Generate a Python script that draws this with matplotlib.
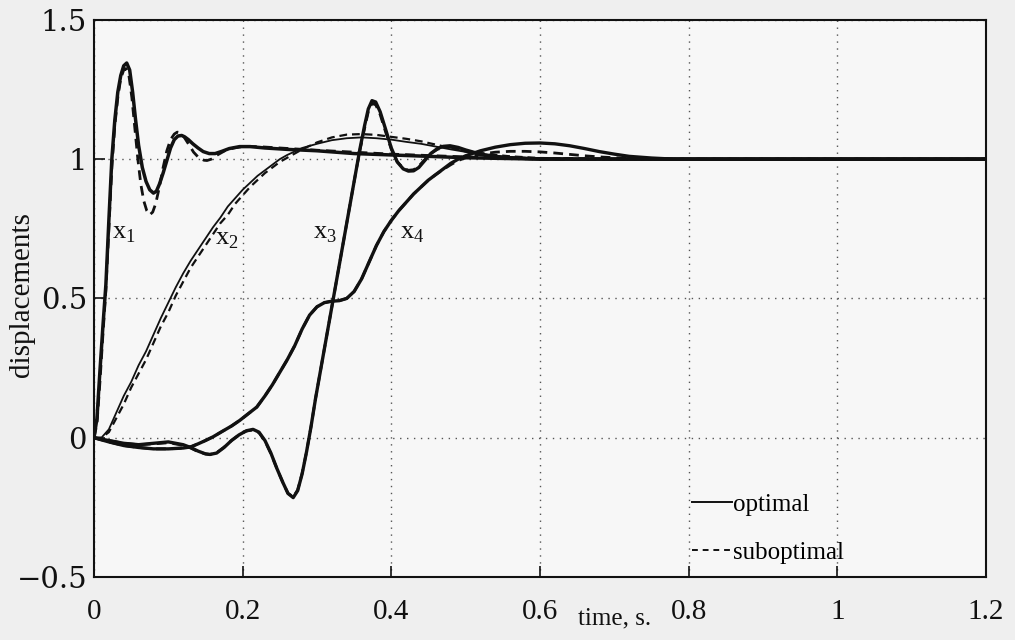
import matplotlib
matplotlib.use("Agg")
import matplotlib.pyplot as plt
from matplotlib.lines import Line2D

plt.rcParams['font.family'] = ['Liberation Serif', 'DejaVu Serif']
plt.rcParams['mathtext.fontset'] = 'custom'
plt.rcParams['mathtext.rm'] = 'Liberation Serif'

# x1 response, optimal / suboptimal controller
t_x1 = [0, 0.004, 0.008, 0.012, 0.016, 0.020, 0.024, 0.028, 0.032, 0.036, 0.040, 0.044,
        0.048, 0.052, 0.056, 0.060, 0.065, 0.070, 0.075, 0.080, 0.084, 0.088, 0.093, 0.098,
        0.103, 0.108, 0.113, 0.118, 0.122, 0.127, 0.133, 0.140, 0.147, 0.155, 0.163, 0.172,
        0.182, 0.196, 0.21, 0.23, 0.26, 0.30, 0.35, 0.40, 0.45, 0.50, 0.60, 0.70, 0.80, 1.0, 1.2]
x1_opt = [0, 0.07, 0.24, 0.40, 0.55, 0.78, 1.0, 1.14, 1.24, 1.30, 1.335, 1.345,
          1.32, 1.24, 1.14, 1.05, 0.97, 0.92, 0.89, 0.878, 0.885, 0.91, 0.95, 0.995,
          1.04, 1.07, 1.083, 1.085, 1.08, 1.07, 1.055, 1.04, 1.027, 1.02, 1.02, 1.028,
          1.038, 1.045, 1.045, 1.04, 1.035, 1.03, 1.02, 1.015, 1.01, 1.005, 1.0, 1.0, 1.0, 1.0, 1.0]
t_x1s = [0, 0.004, 0.008, 0.012, 0.016, 0.020, 0.024, 0.028, 0.032, 0.036, 0.040, 0.043,
         0.047, 0.051, 0.055, 0.059, 0.063, 0.067, 0.071, 0.075, 0.079, 0.083, 0.088, 0.093,
         0.098, 0.103, 0.108, 0.112, 0.116, 0.121, 0.127, 0.134, 0.141, 0.148, 0.152, 0.158,
         0.166, 0.176, 0.188, 0.20, 0.22, 0.25, 0.30, 0.35, 0.40, 0.50, 0.60, 0.80, 1.2]
x1_sub = [0, 0.05, 0.20, 0.37, 0.53, 0.75, 0.97, 1.12, 1.22, 1.29, 1.32, 1.325,
          1.30, 1.22, 1.11, 1.0, 0.91, 0.85, 0.815, 0.80, 0.81, 0.84, 0.90, 0.97,
          1.03, 1.07, 1.09, 1.097, 1.095, 1.08, 1.055, 1.025, 1.005, 0.996, 0.995, 1.0,
          1.015, 1.03, 1.04, 1.045, 1.045, 1.04, 1.032, 1.025, 1.018, 1.008, 1.002, 1.0, 1.0]

# x2 response
t_x2 = [0, 0.01, 0.02, 0.03, 0.04, 0.05, 0.06, 0.07, 0.08, 0.09, 0.10, 0.11, 0.12, 0.13,
        0.14, 0.15, 0.16, 0.17, 0.18, 0.19, 0.20, 0.21, 0.22, 0.23, 0.24, 0.25, 0.26, 0.28,
        0.30, 0.32, 0.34, 0.36, 0.38, 0.40, 0.42, 0.44, 0.46, 0.48, 0.50, 0.53, 0.56, 0.60,
        0.70, 0.80, 1.2]
x2_opt = [0, 0.0, 0.03, 0.09, 0.15, 0.20, 0.26, 0.31, 0.37, 0.43, 0.485, 0.54, 0.59, 0.635,
          0.675, 0.715, 0.755, 0.79, 0.83, 0.86, 0.89, 0.915, 0.94, 0.96, 0.98, 1.0, 1.015, 1.04,
          1.055, 1.068, 1.075, 1.078, 1.075, 1.07, 1.062, 1.055, 1.045, 1.035, 1.026, 1.015, 1.008, 1.003,
          1.0, 1.0, 1.0]
x2_sub = [0, 0.0, 0.02, 0.07, 0.12, 0.18, 0.23, 0.28, 0.34, 0.40, 0.45, 0.51, 0.56, 0.61,
          0.65, 0.69, 0.73, 0.77, 0.80, 0.84, 0.87, 0.90, 0.925, 0.95, 0.97, 0.99, 1.005, 1.035,
          1.06, 1.078, 1.088, 1.09, 1.087, 1.08, 1.073, 1.064, 1.052, 1.04, 1.03, 1.018, 1.01, 1.004,
          1.0, 1.0, 1.0]

# x3 response
t_x3 = [0, 0.02, 0.04, 0.06, 0.08, 0.10, 0.12, 0.13, 0.14, 0.15, 0.156, 0.165, 0.175, 0.185,
        0.195, 0.205, 0.214, 0.222, 0.23, 0.238, 0.246, 0.254, 0.261, 0.268, 0.274, 0.28, 0.286,
        0.292, 0.298, 0.304, 0.31, 0.316, 0.322, 0.328, 0.334, 0.34, 0.346, 0.352, 0.358, 0.364,
        0.369, 0.374, 0.379, 0.385, 0.392, 0.40, 0.408, 0.416, 0.423, 0.43, 0.437, 0.445, 0.453,
        0.462, 0.47, 0.479, 0.49, 0.50, 0.52, 0.55, 0.60, 0.70, 0.80, 1.2]
x3_opt = [0, -0.01, -0.02, -0.025, -0.02, -0.015, -0.025, -0.035, -0.048, -0.058, -0.06, -0.055, -0.035, -0.01,
          0.01, 0.025, 0.03, 0.02, -0.01, -0.055, -0.11, -0.16, -0.20, -0.215, -0.19, -0.13, -0.05,
          0.04, 0.14, 0.23, 0.32, 0.41, 0.50, 0.59, 0.68, 0.77, 0.86, 0.95, 1.04, 1.12,
          1.18, 1.21, 1.205, 1.17, 1.11, 1.04, 0.99, 0.965, 0.957, 0.958, 0.97, 0.995, 1.02,
          1.038, 1.046, 1.048, 1.042, 1.033, 1.018, 1.006, 1.0, 1.0, 1.0, 1.0]
x3_sub = [0, -0.01, -0.02, -0.025, -0.022, -0.018, -0.027, -0.037, -0.05, -0.058, -0.06, -0.054, -0.034, -0.01,
          0.01, 0.024, 0.028, 0.018, -0.012, -0.057, -0.11, -0.16, -0.20, -0.212, -0.188, -0.128, -0.05,
          0.04, 0.14, 0.23, 0.32, 0.41, 0.50, 0.59, 0.68, 0.77, 0.86, 0.95, 1.035, 1.11,
          1.17, 1.2, 1.195, 1.16, 1.10, 1.035, 0.99, 0.968, 0.96, 0.962, 0.975, 0.998, 1.02,
          1.035, 1.042, 1.043, 1.037, 1.028, 1.015, 1.005, 1.0, 1.0, 1.0, 1.0]

# x4 response
t_x4 = [0, 0.02, 0.04, 0.06, 0.08, 0.10, 0.12, 0.13, 0.14, 0.15, 0.16, 0.174, 0.185, 0.196,
        0.207, 0.219, 0.23, 0.24, 0.25, 0.26, 0.27, 0.28, 0.29, 0.30, 0.31, 0.32, 0.33, 0.34,
        0.35, 0.36, 0.37, 0.38, 0.39, 0.40, 0.41, 0.42, 0.43, 0.44, 0.45, 0.46, 0.47, 0.48,
        0.49, 0.50, 0.52, 0.54, 0.56, 0.58, 0.60, 0.62, 0.64, 0.66, 0.68, 0.70, 0.72, 0.75,
        0.78, 0.80, 1.2]
x4_opt = [0, -0.015, -0.028, -0.035, -0.04, -0.04, -0.037, -0.033, -0.022, -0.01, 0.003, 0.025, 0.042, 0.062,
          0.085, 0.11, 0.15, 0.19, 0.235, 0.28, 0.33, 0.39, 0.44, 0.47, 0.485, 0.49, 0.492, 0.50,
          0.525, 0.57, 0.63, 0.69, 0.74, 0.78, 0.815, 0.845, 0.875, 0.90, 0.925, 0.945, 0.965, 0.985,
          1.0, 1.012, 1.03, 1.043, 1.052, 1.057, 1.058, 1.055, 1.048, 1.038, 1.027, 1.018, 1.01, 1.004,
          1.0, 1.0, 1.0]
x4_sub = [0, -0.015, -0.028, -0.035, -0.04, -0.04, -0.037, -0.033, -0.022, -0.01, 0.003, 0.025, 0.042, 0.062,
          0.085, 0.11, 0.15, 0.19, 0.235, 0.28, 0.33, 0.39, 0.44, 0.47, 0.485, 0.49, 0.492, 0.50,
          0.525, 0.57, 0.63, 0.69, 0.74, 0.78, 0.815, 0.845, 0.875, 0.90, 0.925, 0.945, 0.963, 0.98,
          0.995, 1.005, 1.018, 1.025, 1.028, 1.028, 1.026, 1.022, 1.017, 1.012, 1.008, 1.005, 1.003, 1.001,
          1.0, 1.0, 1.0]

curve_labels = [r'x$_\mathregular{1}$', r'x$_\mathregular{2}$', r'x$_\mathregular{3}$', r'x$_\mathregular{4}$']
label_pos = [(0.024, 0.73), (0.163, 0.71), (0.295, 0.73), (0.412, 0.73)]

x_ticks = [0, 0.2, 0.4, 0.6, 0.8, 1.0, 1.2]
x_ticklabels = ['0', '0.2', '0.4', '0.6', '0.8', '1', '1.2']
y_ticks = [-0.5, 0, 0.5, 1.0, 1.5]
y_ticklabels = ['\u22120.5', '0', '0.5', '1', '1.5']

fig = plt.figure(figsize=(10.15, 6.4), dpi=100, facecolor='#efefef')
ax = fig.add_axes([0.0926, 0.0984, 0.8788, 0.8706], facecolor='#f7f7f7')

dash = (0, (3.5, 2.2))
ax.plot(t_x1, x1_opt, color='#111111', lw=2.5, solid_joinstyle='round')
ax.plot(t_x1s, x1_sub, color='#111111', lw=2.0, ls=dash)
ax.plot(t_x2, x2_opt, color='#111111', lw=1.3)
ax.plot(t_x2, x2_sub, color='#111111', lw=1.6, ls=dash)
ax.plot(t_x3, x3_sub, color='#111111', lw=2.0, ls=dash)
ax.plot(t_x3, x3_opt, color='#111111', lw=2.4)
ax.plot(t_x4, x4_sub, color='#111111', lw=2.0, ls=dash)
ax.plot(t_x4, x4_opt, color='#111111', lw=2.4)

for lab, (tx, ty) in zip(curve_labels, label_pos):
    ax.text(tx, ty, lab, fontsize=19, color='#111111', ha='left', va='center')

ax.set_xlim(0, 1.2)
ax.set_ylim(-0.5, 1.5)
ax.set_xticks(x_ticks)
ax.set_xticklabels(x_ticklabels, fontsize=21)
ax.set_yticks(y_ticks)
ax.set_yticklabels(y_ticklabels, fontsize=21, family='DejaVu Serif')
ax.tick_params(direction='in', length=8, width=1.2, colors='#111111')
ax.tick_params(axis='x', pad=16)
ax.tick_params(axis='y', pad=5)

ax.grid(True, color='#555555', lw=1.0, ls=(0, (1, 4)))
for s in ax.spines.values():
    s.set_linewidth(1.5)
    s.set_color('#111111')

ax.text(0.584, -0.075, 'time, s.', transform=ax.transAxes, fontsize=18,
        ha='center', va='center', color='#111111')
fig.text(0.022, 0.539, 'displacements', rotation=90, fontsize=21,
         ha='center', va='center', color='#111111')

handles = [Line2D([], [], color='#111111', lw=1.4),
           Line2D([], [], color='#111111', lw=1.4, ls=(0, (3, 2.5)))]
ax.legend(handles, ['optimal', 'suboptimal'], loc='lower left',
          bbox_to_anchor=(0.670, 0.024), frameon=False, fontsize=18,
          handlelength=1.6, handletextpad=0.05, labelspacing=1.0,
          borderpad=0, borderaxespad=0)

fig.savefig('out.png', dpi=100, facecolor=fig.get_facecolor())
